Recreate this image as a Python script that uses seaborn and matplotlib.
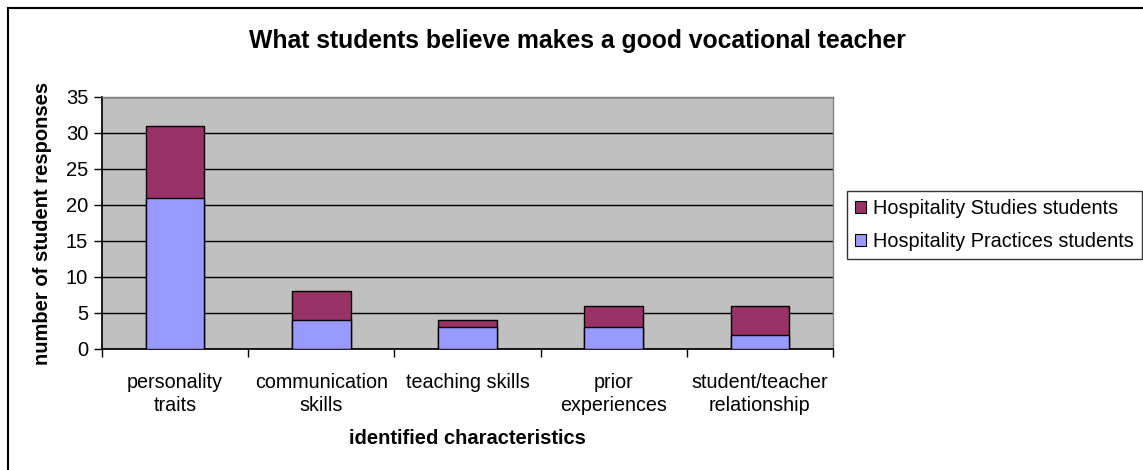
import matplotlib
matplotlib.use("Agg")
import matplotlib.pyplot as plt
from matplotlib.patches import Rectangle, Patch
import seaborn as sns
import pandas as pd
import numpy as np

categories = ["personality\ntraits", "communication\nskills", "teaching skills",
              "prior\nexperiences", "student/teacher\nrelationship"]
practices = [21, 4, 3, 3, 2]
studies = [10, 4, 1, 3, 4]
series_names = ["Hospitality Studies students", "Hospitality Practices students"]
yticks = [0, 5, 10, 15, 20, 25, 30, 35]

sns.set_theme(style="white")
plt.rcParams["font.family"] = ["Liberation Sans", "DejaVu Sans"]
plt.rcParams["text.color"] = "black"
plt.rcParams["axes.labelcolor"] = "black"
plt.rcParams["xtick.color"] = "black"
plt.rcParams["ytick.color"] = "black"

col_studies = "#993366"
col_practices = "#9999FF"

df = pd.DataFrame({
    "category": categories,
    "practices": practices,
    "total": np.array(practices) + np.array(studies),
})

fig = plt.figure(figsize=(11.43, 4.70), dpi=100)
ax = fig.add_axes([102 / 1143, 1 - 349 / 470, 731 / 1143, 252 / 470])
ax.set_facecolor("#C0C0C0")

sns.barplot(data=df, x="category", y="total", color=col_studies, width=0.4,
            edgecolor="black", linewidth=1.0, saturation=1, ax=ax, zorder=3)
sns.barplot(data=df, x="category", y="practices", color=col_practices, width=0.4,
            edgecolor="black", linewidth=1.0, saturation=1, ax=ax, zorder=4)

ax.set_ylim(0, 35)
ax.set_xlim(-0.5, len(categories) - 0.5)
ax.set_yticks(yticks)
ax.set_yticklabels([str(v) for v in yticks], fontsize=14.5)
ax.yaxis.grid(True, color="black", linewidth=1.0, zorder=1)
ax.set_axisbelow(True)

# category labels centred, tick marks at the category boundaries
ax.set_xticks(np.arange(len(categories)))
ax.set_xticklabels(categories, fontsize=14.2, linespacing=1.3)
ax.tick_params(axis="x", length=0, pad=17)
ax.set_xticks(np.arange(len(categories) + 1) - 0.5, minor=True)
ax.tick_params(axis="x", which="minor", length=6, width=1, color="black", bottom=True)
ax.tick_params(axis="y", length=6, width=1, color="black", left=True, pad=4)

for side in ["top", "right"]:
    ax.spines[side].set_color("#808080")
    ax.spines[side].set_linewidth(1.0)
ax.spines["left"].set_color("black")
ax.spines["bottom"].set_color("black")

ax.set_xlabel("identified characteristics", fontsize=14.5, fontweight="bold", labelpad=10)
ax.set_ylabel("number of student responses", fontsize=14.5, fontweight="bold", labelpad=10)

fig.suptitle("What students believe makes a good vocational teacher",
             x=577 / 1143, y=1 - 29 / 470, fontsize=17.8,
             fontweight="bold", va="top")

handles = [Patch(facecolor=col_studies, edgecolor="black", linewidth=0.8),
           Patch(facecolor=col_practices, edgecolor="black", linewidth=0.8)]
leg = fig.legend(handles, series_names, loc="upper left",
                 bbox_to_anchor=(847 / 1143, 1 - 191 / 470), fontsize=14.3,
                 frameon=True, fancybox=False, edgecolor="black",
                 handlelength=0.55, handleheight=0.55, handletextpad=0.35,
                 borderpad=0.4, labelspacing=0.7, borderaxespad=0)
leg.get_frame().set_linewidth(1.0)

# outer chart frame (its right and bottom edges run off the canvas)
fig.patches.append(Rectangle((8 / 1143, -10 / 470), 1160 / 1143, 472 / 470,
                             transform=fig.transFigure, fill=False,
                             edgecolor="black", linewidth=1.5))

fig.savefig("out.png", dpi=100, facecolor="white")
